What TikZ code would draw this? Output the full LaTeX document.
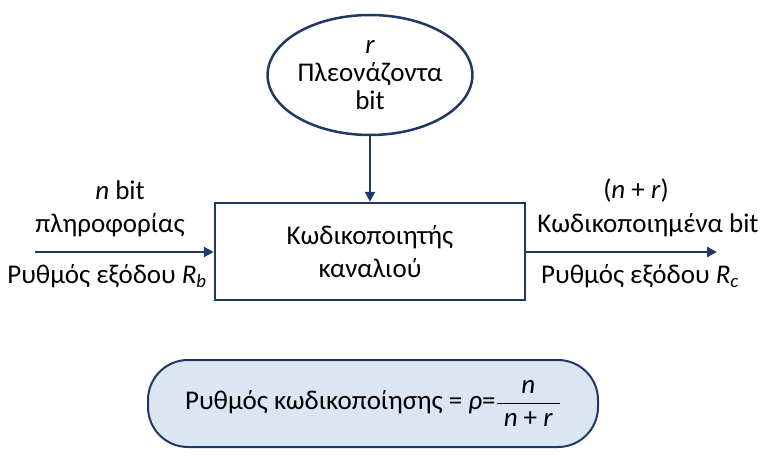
\documentclass[tikz,border=0pt]{standalone}
\usepackage{amsmath}
\usepackage{fontspec}
\setmainfont{Carlito}
\usetikzlibrary{shapes.geometric,positioning,arrows.meta}
\definecolor{navy}{HTML}{1F3864}
\definecolor{paleblue}{HTML}{DCE6F2}
\tikzset{
  lbl/.style={font=\fontsize{27}{31}\selectfont, inner sep=0pt},
  flow/.style={draw=navy, line width=2.5pt, -{Triangle[length=10pt,width=10pt]}}
}
\begin{document}
\begin{tikzpicture}[x=1pt,y=-1pt]
  \useasboundingbox (0,0) rectangle (764,460);
  %Define nodes
  \node[ellipse, draw=navy, line width=2.5pt, minimum width=196pt, minimum height=120pt,
        inner sep=0pt, align=center, lbl] (red) at (370,75)
        {\textit{r}\\[-3pt]Πλεονάζοντα\\[-3pt]bit};
  \node[draw=navy, line width=2.5pt, minimum width=310pt, minimum height=97pt,
        align=center, lbl] (enc) at (370,251.5)
        {Κωδικοποιητής\\[2pt]καναλιού};
  \coordinate (in) at (35,252);
  \coordinate (out) at (717,252);
  \node[lbl] (nb) at (120,190) {\textit{n} bit};
  \node[lbl] (info) at (110,225) {πληροφορίας};
  \node[lbl] (rb) at (107,276) {Ρυθμός εξόδου \textit{R}\textsubscript{\textit{b}}};
  \node[lbl] (nr) at (636,190) {(\textit{n} + \textit{r})};
  \node[lbl] (coded) at (648,225) {Κωδικοποιημένα bit};
  \node[lbl] (rc) at (640,276) {Ρυθμός εξόδου \textit{R}\textsubscript{\textit{c}}};
  \node[draw=navy, fill=paleblue, line width=2pt, rounded corners=40pt,
        minimum width=450pt, minimum height=87pt, lbl] (rate) at (373,403.5)
        {Ρυθμός κωδικοποίησης = \textit{ρ}=$\dfrac{\text{\textit{n}}}{\;\text{\textit{n} + \textit{r}}\;}$};

  % Connect the nodes
  \draw[flow] (red) -- (enc);
  \draw[flow] (in) -- (enc.west |- in);
  \draw[flow] (enc.east |- out) -- (out);
\end{tikzpicture}
\end{document}
